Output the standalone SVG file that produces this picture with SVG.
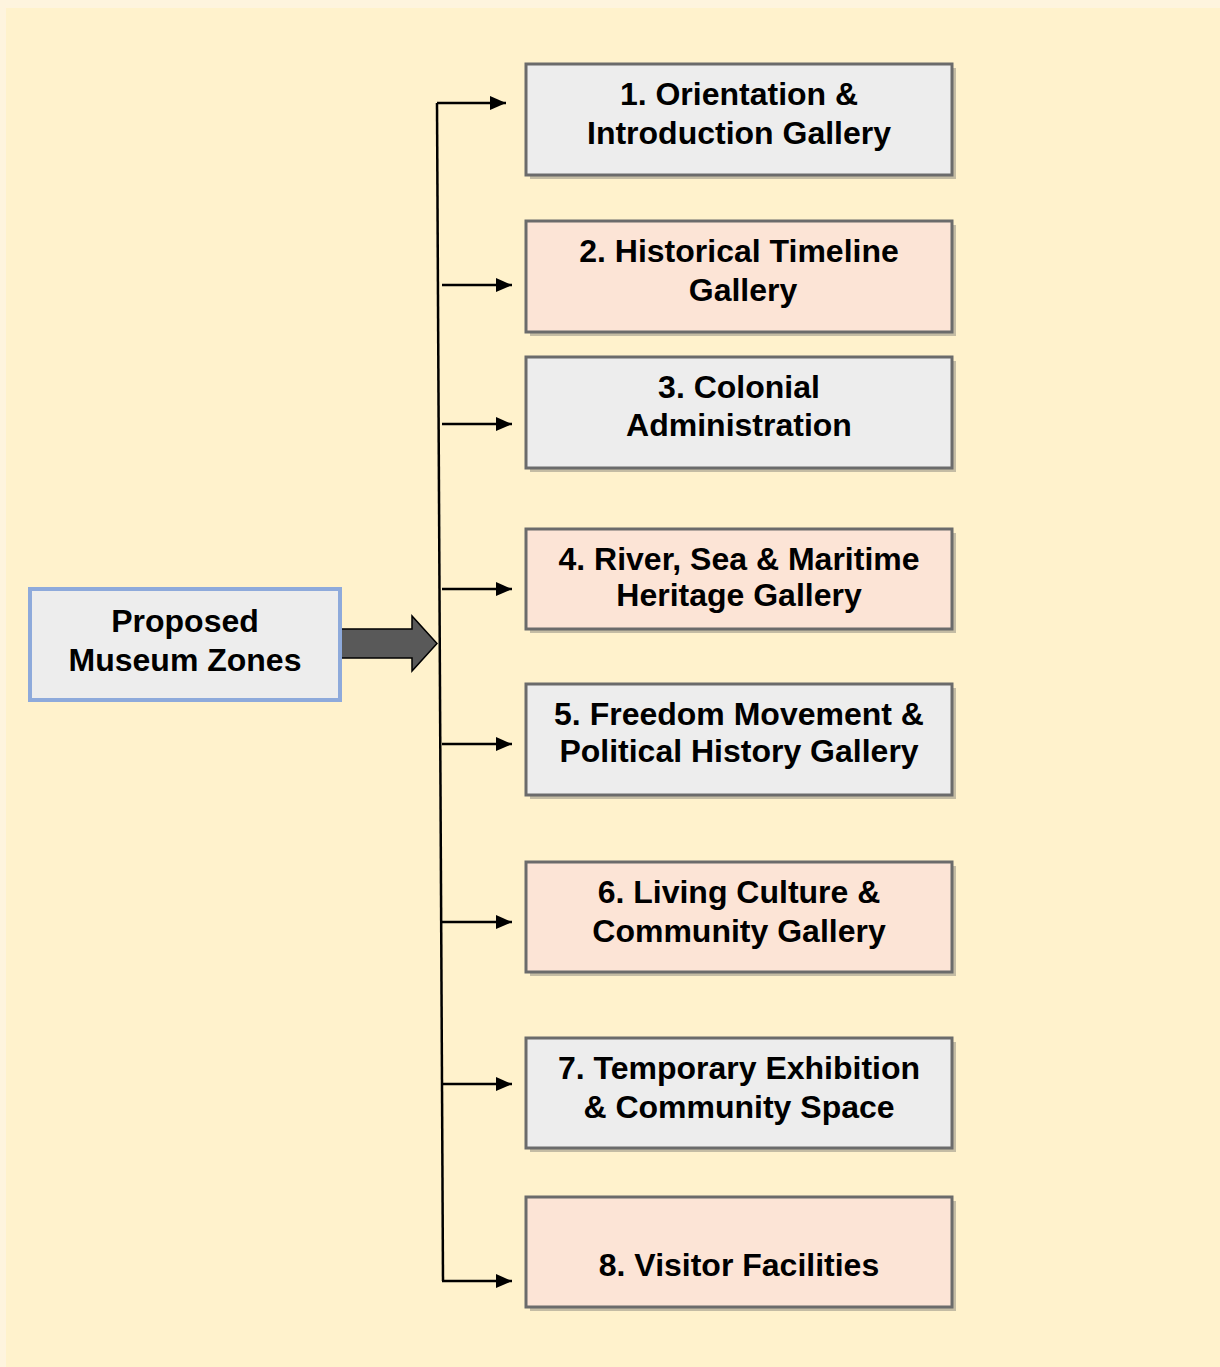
<svg xmlns="http://www.w3.org/2000/svg" width="1220" height="1367" viewBox="0 0 1220 1367">
<style>
.t{font-family:"Liberation Sans",Arial,sans-serif;font-weight:bold;font-size:32px;fill:#000;text-anchor:middle}
.box{stroke:#6b6b6b;stroke-width:3}
.g{fill:#ededed}
.p{fill:#fce4d6}
.sh{fill:#c4bca4}
.ln{stroke:#000;stroke-width:2.5;fill:none}
</style>
<defs>
<marker id="a" viewBox="0 0 16 14" refX="16" refY="7" markerWidth="16" markerHeight="14" markerUnits="userSpaceOnUse" orient="auto">
<path d="M0,0 L16,7 L0,14 z" fill="#000"/>
</marker>
</defs>
<rect x="0" y="0" width="1220" height="1367" fill="#fef4de"/>
<rect x="6" y="8" width="1214" height="1359" fill="#fff2cc"/>

<g id="connectors">
<polyline class="ln" points="437,103 443,1281"/>
<line class="ln" x1="437" y1="103" x2="506" y2="103" marker-end="url(#a)"/>
<line class="ln" x1="442" y1="285" x2="512" y2="285" marker-end="url(#a)"/>
<line class="ln" x1="442" y1="424" x2="512" y2="424" marker-end="url(#a)"/>
<line class="ln" x1="442" y1="589" x2="512" y2="589" marker-end="url(#a)"/>
<line class="ln" x1="442" y1="744" x2="512" y2="744" marker-end="url(#a)"/>
<line class="ln" x1="442" y1="922" x2="512" y2="922" marker-end="url(#a)"/>
<line class="ln" x1="442" y1="1084" x2="512" y2="1084" marker-end="url(#a)"/>
<line class="ln" x1="442" y1="1281" x2="512" y2="1281" marker-end="url(#a)"/>
<path d="M339,629 L412,629 L412,616 L437,643.5 L412,671 L412,658 L339,658 z" fill="#595959" stroke="#000" stroke-width="1.5"/>
</g>

<g id="root">
<rect x="30" y="589" width="310" height="111" fill="#ededed" stroke="#8eaadb" stroke-width="4"/>
<text class="t" x="185" y="632">Proposed</text>
<text class="t" x="185" y="671">Museum Zones</text>
</g>

<g id="n1">
<rect class="sh" x="530" y="68" width="426" height="111"/>
<rect class="box g" x="526" y="64" width="426" height="111"/>
<text class="t" x="739" y="105">1. Orientation &amp;</text>
<text class="t" x="739" y="144">Introduction Gallery</text>
</g>
<g id="n2">
<rect class="sh" x="530" y="225" width="426" height="111"/>
<rect class="box p" x="526" y="221" width="426" height="111"/>
<text class="t" x="739" y="262">2. Historical Timeline</text>
<text class="t" x="743" y="301">Gallery</text>
</g>
<g id="n3">
<rect class="sh" x="530" y="361" width="426" height="111"/>
<rect class="box g" x="526" y="357" width="426" height="111"/>
<text class="t" x="739" y="398">3. Colonial</text>
<text class="t" x="739" y="436">Administration</text>
</g>
<g id="n4">
<rect class="sh" x="530" y="533" width="426" height="100"/>
<rect class="box p" x="526" y="529" width="426" height="100"/>
<text class="t" x="739" y="570">4. River, Sea &amp; Maritime</text>
<text class="t" x="739" y="606">Heritage Gallery</text>
</g>
<g id="n5">
<rect class="sh" x="530" y="688" width="426" height="111"/>
<rect class="box g" x="526" y="684" width="426" height="111"/>
<text class="t" x="739" y="725">5. Freedom Movement &amp;</text>
<text class="t" x="739" y="762">Political History Gallery</text>
</g>
<g id="n6">
<rect class="sh" x="530" y="866" width="426" height="110"/>
<rect class="box p" x="526" y="862" width="426" height="110"/>
<text class="t" x="739" y="903">6. Living Culture &amp;</text>
<text class="t" x="739" y="942">Community Gallery</text>
</g>
<g id="n7">
<rect class="sh" x="530" y="1042" width="426" height="110"/>
<rect class="box g" x="526" y="1038" width="426" height="110"/>
<text class="t" x="739" y="1079">7. Temporary Exhibition</text>
<text class="t" x="739" y="1118">&amp; Community Space</text>
</g>
<g id="n8">
<rect class="sh" x="530" y="1201" width="426" height="110"/>
<rect class="box p" x="526" y="1197" width="426" height="110"/>
<text class="t" x="739" y="1276">8. Visitor Facilities</text>
</g>
</svg>
